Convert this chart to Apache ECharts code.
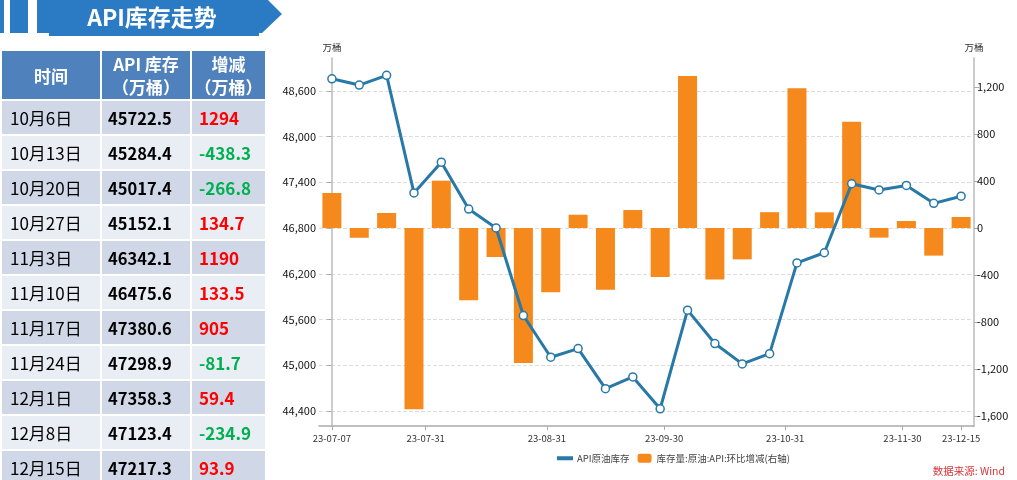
<!DOCTYPE html>
<html lang="zh">
<head>
<meta charset="UTF-8">
<title>API库存走势</title>
<script src="https://cdn.jsdelivr.net/npm/echarts@6/dist/echarts.min.js"></script>
<style>
    body { margin: 0; width: 1017px; height: 480px; overflow: hidden; background: #fff; font-family: "Noto Sans CJK SC", sans-serif; position: relative; }
    #chart { position: absolute; left: 0; top: 0; width: 1017px; height: 480px; }
    #banner { position: absolute; left: 0; top: 0; }
    #tbl { position: absolute; left: 0; top: 49px; border-collapse: separate; border-spacing: 2px; }
    #tbl td, #tbl th { padding: 0; font-size: 17px; }
    #tbl th { background: #4F81BD; color: #fff; font-weight: bold; height: 48px; line-height: 23px; }
    #tbl td { height: 33px; }
    #tbl tr.odd td { background: #D0D8E8; }
    #tbl tr.even td { background: #E9EDF4; }
    .c1 { width: 98px; padding-left: 8px !important; box-sizing: border-box; color: #000; }
    .c2 { width: 88px; padding-left: 6px !important; box-sizing: border-box; font-weight: bold; color: #000; font-size: 16.5px !important; }
    .c3 { width: 73px; padding-left: 7px !important; box-sizing: border-box; font-weight: bold; }
</style>
</head>
<body>
<div id="chart"></div>
<svg id="banner" width="300" height="40">
    <rect x="0" y="0" width="4" height="33" fill="#2B7BC4"></rect>
    <rect x="10" y="0" width="18" height="33" fill="#2B7BC4"></rect>
    <polygon points="37,0 268,0 282,14 262,33 259,33 259,36 49,36 49,33 37,33" fill="#2B7BC4"></polygon>
    <text x="152" y="26" text-anchor="middle" fill="#fff" font-size="23" font-weight="bold" font-family="Noto Sans CJK SC">API库存走势</text>
</svg>
<table id="tbl"></table>
<script>
    // 表格数据
    var tableDates = ['10月6日', '10月13日', '10月20日', '10月27日', '11月3日', '11月10日', '11月17日', '11月24日', '12月1日', '12月8日', '12月15日'];
    var tableStock = ['45722.5', '45284.4', '45017.4', '45152.1', '46342.1', '46475.6', '47380.6', '47298.9', '47358.3', '47123.4', '47217.3'];
    var tableChange = ['1294', '-438.3', '-266.8', '134.7', '1190', '133.5', '905', '-81.7', '59.4', '-234.9', '93.9'];

    // 图表数据（周度）
    var dates = ['2023-07-07', '2023-07-14', '2023-07-21', '2023-07-28', '2023-08-04', '2023-08-11', '2023-08-18', '2023-08-25',
        '2023-09-01', '2023-09-08', '2023-09-15', '2023-09-22', '2023-09-29', '2023-10-06', '2023-10-13', '2023-10-20',
        '2023-10-27', '2023-11-03', '2023-11-10', '2023-11-17', '2023-11-24', '2023-12-01', '2023-12-08', '2023-12-15'];
    var stock = [48757, 48675, 48803, 47260, 47663, 47048, 46801, 45652, 45105, 45218, 44693, 44846, 44429,
        45722.5, 45284.4, 45017.4, 45152.1, 46342.1, 46475.6, 47380.6, 47298.9, 47358.3, 47123.4, 47217.3];
    var change = [298, -83, 128, -1543, 403, -615, -247, -1149, -547, 113, -525, 153, -417,
        1294, -438.3, -266.8, 134.7, 1190, 133.5, 905, -81.7, 59.4, -234.9, 93.9];
    var xLabelDates = ['2023-07-07', '2023-07-31', '2023-08-31', '2023-09-30', '2023-10-31', '2023-11-30', '2023-12-15'];
    var leftTicks = [44400, 45000, 45600, 46200, 46800, 47400, 48000, 48600];
    var rightTicks = [-1600, -1200, -800, -400, 0, 400, 800, 1200];

    // 生成表格
    var tbl = document.getElementById('tbl');
    var html = '<tr><th class="c1" style="padding-left:0!important;text-align:center">时间</th>' +
        '<th class="c2" style="padding-left:0!important;text-align:center;font-size:17px!important">API 库存<br>（万桶）</th>' +
        '<th class="c3" style="padding-left:0!important;text-align:center">增减<br>（万桶）</th></tr>';
    for (var i = 0; i < tableDates.length; i++) {
        var neg = tableChange[i].charAt(0) === '-';
        html += '<tr class="' + (i % 2 === 0 ? 'odd' : 'even') + '"><td class="c1">' + tableDates[i] + '</td><td class="c2">' +
            tableStock[i] + '</td><td class="c3" style="color:' + (neg ? '#00B050' : '#FF0000') + '">' + tableChange[i] + '</td></tr>';
    }
    tbl.innerHTML = html;

    // 日期 -> 距 7月7日 的天数
    var DAY = 86400000;
    var T0 = Date.UTC(2023, 6, 7);
    function dayOf(s) {
        var p = s.split('-');
        return Math.round((Date.UTC(+p[0], +p[1] - 1, +p[2]) - T0) / DAY);
    }
    var lineData = dates.map(function (d, i) { return [dayOf(d), stock[i]]; });
    var barData = dates.map(function (d, i) { return [dayOf(d), change[i]]; });
    var xLabelDays = xLabelDates.map(dayOf);

    function comma(v) {
        return Number(v).toLocaleString('en-US');
    }
    function dayLabel(v) {
        var d = new Date(T0 + v * DAY);
        var m = d.getUTCMonth() + 1, dd = d.getUTCDate();
        return '23-' + (m < 10 ? '0' : '') + m + '-' + (dd < 10 ? '0' : '') + dd;
    }

    var mCharts = echarts.init(document.getElementById('chart'));
    var option = {
        animation: false,
        grid: {
            left: 319,
            right: 43,
            top: 58,
            bottom: 54,
            containLabel: false
        },
        legend: {
            bottom: 12,
            left: 552,
            itemWidth: 14,
            itemHeight: 9,
            itemGap: 8,
            textStyle: { fontSize: 9.5, color: '#444', fontFamily: 'Noto Sans CJK SC' },
            data: [
                { name: 'API原油库存', icon: 'path://M0,4 L14,4 L14,6 L0,6 Z' },
                { name: '库存量:原油:API:环比增减(右轴)', icon: 'roundRect' }
            ]
        },
        xAxis: {
            type: 'value',
            min: -3.3,
            max: dayOf('2023-12-15') + 3.3,
            axisLine: { onZero: false, lineStyle: { color: '#aaa', width: 1.5 } },
            axisTick: { show: true, customValues: xLabelDays, length: 4, lineStyle: { color: '#aaa' } },
            splitLine: { show: false },
            axisLabel: {
                customValues: xLabelDays,
                fontSize: 9.5,
                color: '#333',
                margin: 8,
                fontFamily: 'Noto Sans CJK SC',
                formatter: dayLabel
            }
        },
        yAxis: [
            {
                type: 'value',
                name: '万桶',
                nameLocation: 'end',
                nameGap: 6,
                nameTextStyle: { fontSize: 9.5, color: '#333', align: 'center', fontFamily: 'Noto Sans CJK SC' },
                min: 44203,
                max: 49030,
                position: 'left',
                axisLine: { show: true, lineStyle: { color: '#ccc', width: 2 } },
                axisTick: { show: true, customValues: leftTicks, length: 5, lineStyle: { color: '#aaa' } },
                axisLabel: {
                    customValues: leftTicks,
                    fontSize: 11,
                    color: '#111',
                    margin: 3,
                    fontFamily: 'Noto Sans CJK SC',
                    formatter: comma
                },
                splitLine: { show: true, lineStyle: { color: '#ddd', type: 'dashed' } }
            },
            {
                type: 'value',
                name: '万桶',
                nameLocation: 'end',
                nameGap: 6,
                nameTextStyle: { fontSize: 9.5, color: '#333', align: 'center', fontFamily: 'Noto Sans CJK SC' },
                min: -1685,
                max: 1447,
                position: 'right',
                axisLine: { show: true, lineStyle: { color: '#ccc', width: 2 } },
                axisTick: { show: true, customValues: rightTicks, length: 5, lineStyle: { color: '#aaa' } },
                axisLabel: {
                    customValues: rightTicks,
                    fontSize: 11,
                    color: '#111',
                    margin: 3,
                    fontFamily: 'Noto Sans CJK SC',
                    formatter: comma
                },
                splitLine: { show: false }
            }
        ],
        series: [
            {
                name: '库存量:原油:API:环比增减(右轴)',
                type: 'bar',
                yAxisIndex: 1,
                barWidth: 19,
                itemStyle: { color: '#F5891C' },
                data: barData,
                z: 2
            },
            {
                name: 'API原油库存',
                type: 'line',
                yAxisIndex: 0,
                symbol: 'circle',
                symbolSize: 8,
                lineStyle: { color: '#2878A8', width: 3 },
                itemStyle: { color: '#fff', borderColor: '#2878A8', borderWidth: 1.5 },
                data: lineData,
                z: 3
            }
        ],
        graphic: [
            {
                type: 'text',
                right: 12,
                top: 466,
                style: { text: '数据来源: Wind', fill: '#D9363A', fontSize: 10.5, fontFamily: 'Noto Sans CJK SC' }
            }
        ]
    };
    mCharts.setOption(option);
</script>
</body>
</html>
